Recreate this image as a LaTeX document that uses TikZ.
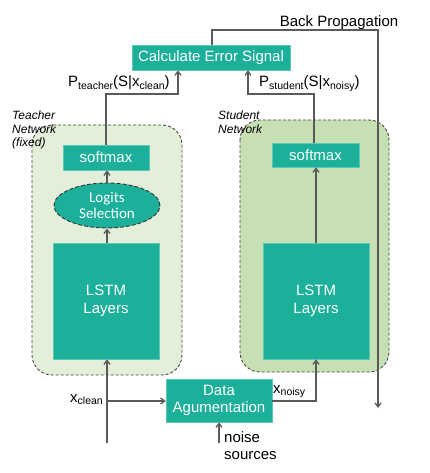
\documentclass[tikz,border=0pt]{standalone}
\usepackage{fontspec}
\setmainfont{Liberation Sans}
\newfontfamily\calib{Carlito}
\usetikzlibrary{arrows.meta,shapes.geometric}
\definecolor{teal1}{HTML}{1CB09B}
\definecolor{tealedge}{HTML}{5CC8B6}
\definecolor{tfill}{HTML}{E3EFD9}
\definecolor{sfill}{HTML}{C6E0B4}
\definecolor{lgray}{HTML}{5A5A5A}
\definecolor{dgray}{HTML}{454545}
\newcommand{\sbt}[1]{\raisebox{-0.35ex}{\fontsize{10.5}{11}\selectfont #1}}
\begin{document}
\begin{tikzpicture}[x=1pt,y=-1pt,
  font=\fontsize{15}{17.7}\selectfont,
  box/.style={draw=tealedge,line width=0.6pt,fill=teal1,text=white,inner sep=0pt,align=center},
  cont/.style={draw=dgray,dash pattern=on 3pt off 2pt,line width=0.9pt,rounded corners=20pt},
  conn/.style={draw=lgray,line width=1.3pt,-{Straight Barb[length=4pt,width=6pt]}},
  lab/.style={inner sep=0pt,text=black},
  netlab/.style={inner sep=0pt,align=left,font=\fontsize{12}{13.3}\selectfont\itshape,text=black}]
\useasboundingbox (0,0) rectangle (429,473);
% containers
\draw[cont,fill=tfill] (32,125) rectangle (182,375);
\draw[cont,fill=sfill] (240,120) rectangle (389,372);
% nodes
\node[box,minimum width=158pt,minimum height=25pt] (calc) at (211,57.5) {Calculate Error Signal};
\node[box,minimum width=86pt,minimum height=25pt] (tsm) at (106,157.5) {softmax};
\node[box,minimum width=87pt,minimum height=24pt] (ssm) at (315.5,155) {softmax};
\node[ellipse,draw=black!80,dash pattern=on 4pt off 2pt,line width=0.9pt,fill=teal1,text=white,inner sep=0pt,
  minimum width=106pt,minimum height=45pt,align=center,font=\calib\fontsize{15}{16.7}\selectfont] (logit) at (107,205.5) {Logits\\Selection};
\node[box,minimum width=106pt,minimum height=116pt] (tlstm) at (106,301) {LSTM\\Layers};
\node[box,minimum width=106pt,minimum height=116pt] (slstm) at (316,301) {LSTM\\Layers};
\node[box,minimum width=106pt,minimum height=43pt] (aug) at (219,400.5) {Data\\Agumentation};
% coordinates
\coordinate (bp1) at (212,30);
\coordinate (bp2) at (378,30);
\coordinate (bpend) at (378,408);
\coordinate (cin) at (107,443);
\coordinate (cbr) at (107,401);
\coordinate (nin) at (219,443);
\coordinate (tm) at (106,94);
\coordinate (tm2) at (178,94);
\coordinate (sm) at (314,94);
\coordinate (sm2) at (248,94);
\coordinate (nz) at (316,401);
% connectors
\draw[conn] (calc.north -| bp1) -- (bp1) -- (bp2) -- (bpend);
\draw[conn] (tsm.north -| tm) -- (tm) -- (tm2) -- (calc.south -| tm2);
\draw[conn] (ssm.north -| sm) -- (sm) -- (sm2) -- (calc.south -| sm2);
\draw[conn] (logit.north) -- (tsm.south -| logit.north);
\draw[conn] (tlstm.north -| logit.south) -- (logit.south);
\draw[conn] (slstm.north) -- (slstm.north |- ssm.south);
\draw[conn] (cin) -- (tlstm.south -| cin);
\draw[conn] (cbr) -- (aug.west |- cbr);
\draw[conn] (aug.east |- nz) -- (nz) -- (slstm.south -| nz);
\draw[conn] (nin) -- (aug.south -| nin);
% labels
\node[lab,anchor=base] (bplab) at (339,26.5) {Back Propagation};
\node[lab,anchor=base west] (pt) at (68,87) {P\sbt{teacher}(S|x\sbt{clean})};
\node[lab,anchor=base west] (ps) at (259,87) {P\sbt{student}(S|x\sbt{noisy})};
\node[lab,anchor=base west] (xc) at (70,402) {x\sbt{clean}};
\node[lab,anchor=base west] (xn) at (273,393) {x\sbt{noisy}};
\node[lab,anchor=north west,align=left] (ns) at (224,431) {noise\\sources};
\node[netlab,anchor=north west] (tl) at (12,111) {Teacher\\Network\\(fixed)};
\node[netlab,anchor=north west] (sl) at (218,111) {Student\\Network};
\end{tikzpicture}
\end{document}
